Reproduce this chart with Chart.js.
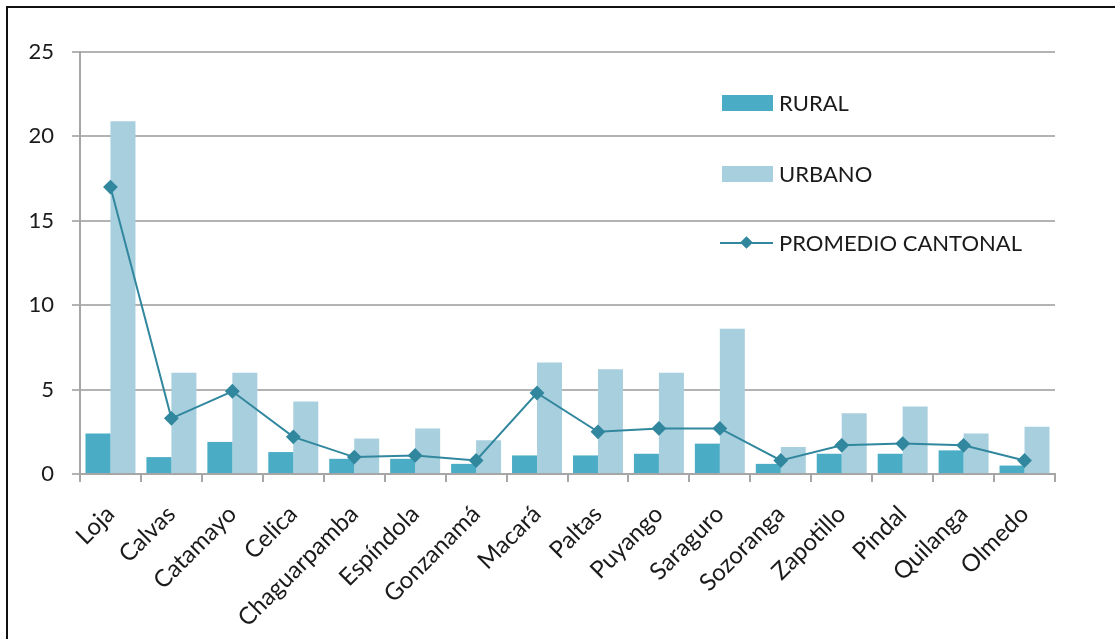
<!DOCTYPE html>
<html>
<head>
<meta charset="utf-8">
<script src="https://cdn.jsdelivr.net/npm/chart.js@4"></script>
<style>
  html, body { margin: 0; padding: 0; background: #fff; }
  #wrap { position: relative; width: 1115px; height: 639px; overflow: hidden; }
  #frame { position: absolute; left: 6px; top: 6px; width: 1200px; height: 700px; border: 2px solid #111; box-sizing: border-box; pointer-events: none; }
  canvas { position: absolute; left: 0; top: 0; }
  .lg { position: absolute; font-family: Lato, "Open Sans", sans-serif; font-size: 22px; color: #1a1a1a; line-height: 22px; }
  .sw { position: absolute; width: 51px; height: 16px; }
  .ln { position: absolute; width: 53px; height: 2px; background: #31879E; }
  .dm { position: absolute; width: 9px; height: 9px; background: #31879E; transform: rotate(45deg); }
</style>
</head>
<body>
<div id="wrap">
  <canvas id="c" width="1115" height="639"></canvas>
  <div id="frame"></div>
  <div class="sw" style="left:722px; top:95px; background:#4BACC6;"></div>
  <div class="lg" style="left:779px; top:92px;">RURAL</div>
  <div class="sw" style="left:722px; top:166px; background:#A8CFDD;"></div>
  <div class="lg" style="left:779px; top:163px;">URBANO</div>
  <div class="ln" style="left:720px; top:242px;"></div>
  <div class="dm" style="left:742px; top:238px;"></div>
  <div class="lg" style="left:779px; top:232px;">PROMEDIO CANTONAL</div>
</div>
<script>
const categories = ["Loja","Calvas","Catamayo","Celica","Chaguarpamba","Espíndola","Gonzanamá","Macará","Paltas","Puyango","Saraguro","Sozoranga","Zapotillo","Pindal","Quilanga","Olmedo"];
const rural = [2.4,1.0,1.9,1.3,0.9,0.9,0.6,1.1,1.1,1.2,1.8,0.6,1.2,1.2,1.4,0.5];
const urbano = [20.9,6.0,6.0,4.3,2.1,2.7,2.0,6.6,6.2,6.0,8.6,1.6,3.6,4.0,2.4,2.8];
const promedio = [17.0,3.3,4.9,2.2,1.0,1.1,0.8,4.8,2.5,2.7,2.7,0.8,1.7,1.8,1.7,0.8];
const yTicks = [0,5,10,15,20,25];

const FONT = 'Lato, "Open Sans", sans-serif';

new Chart(document.getElementById('c'), {
  data: {
    labels: categories,
    datasets: [
      { type: 'line', label: 'PROMEDIO CANTONAL', data: promedio, borderColor: '#31879E', backgroundColor: '#31879E', borderWidth: 2, pointStyle: 'rectRot', pointRadius: 6, pointHoverRadius: 6, tension: 0, order: 0 },
      { type: 'bar', label: 'RURAL', data: rural, backgroundColor: '#4BACC6', categoryPercentage: 0.82, barPercentage: 1.0, order: 1 },
      { type: 'bar', label: 'URBANO', data: urbano, backgroundColor: '#A8CFDD', categoryPercentage: 0.82, barPercentage: 1.0, order: 1 }
    ]
  },
  options: {
    responsive: false,
    animation: false,
    devicePixelRatio: 1,
    layout: { padding: { left: 0, top: 52, right: 60, bottom: 0 } },
    plugins: { legend: { display: false }, tooltip: { enabled: false } },
    scales: {
      x: {
        offset: true,
        afterFit: s => { s.height = 165; },
        grid: { offset: true, drawOnChartArea: false, drawTicks: true, tickLength: 8, color: '#A6A6A6', lineWidth: 2 },
        border: { display: true, color: '#A6A6A6', width: 2 },
        ticks: { minRotation: 45, maxRotation: 45, autoSkip: false, padding: 18, color: '#1a1a1a', font: { family: FONT, size: 24 } }
      },
      y: {
        min: 0, max: 25,
        afterFit: s => { s.width = 80; },
        afterBuildTicks: s => { s.ticks = yTicks.map(v => ({ value: v })); },
        grid: { color: '#B3B3B3', lineWidth: 2, drawTicks: true, tickLength: 8 },
        border: { display: true, color: '#A6A6A6', width: 2 },
        ticks: { padding: 18, color: '#1a1a1a', font: { family: FONT, size: 22 } }
      }
    }
  }
});
</script>
</body>
</html>
